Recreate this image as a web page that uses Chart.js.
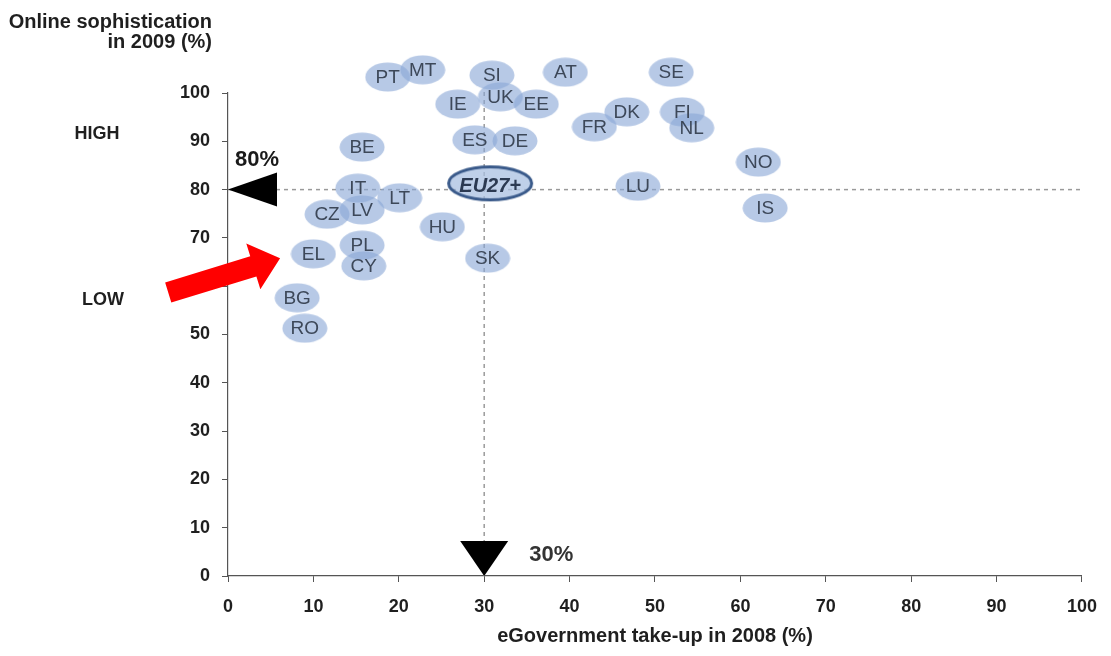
<!DOCTYPE html>
<html>
<head>
<meta charset="utf-8">
<title>eGovernment take-up vs online sophistication</title>
<script src="https://cdn.jsdelivr.net/npm/chart.js@4/dist/chart.umd.min.js"></script>
<style>
  html, body { margin: 0; padding: 0; background: #ffffff; }
  #wrap { width: 1111px; height: 656px; position: relative; }
</style>
</head>
<body>
<div id="wrap"><canvas id="chart" width="1111" height="656"></canvas></div>
<script>
// Country codes with eGovernment take-up 2008 (%) and online sophistication 2009 (%)
const countries = ['PT','MT','SI','AT','SE','IE','UK','EE','DK','FI','FR','NL','ES','DE','BE','NO','LU','IT','LT','LV','CZ','IS','HU','PL','EL','CY','SK','BG','RO'];
const takeUp2008 = [18.7, 22.8, 30.9, 39.5, 51.9, 26.9, 31.9, 36.1, 46.7, 53.2, 42.9, 54.3, 28.9, 33.6, 15.7, 62.1, 48.0, 15.2, 20.1, 15.7, 11.6, 62.9, 25.1, 15.7, 10.0, 15.9, 30.4, 8.1, 9.0];
const sophistication2009 = [103.3, 104.8, 103.7, 104.3, 104.3, 97.7, 99.2, 97.7, 96.1, 96.1, 93.0, 92.8, 90.3, 90.1, 88.8, 85.7, 80.7, 80.3, 78.3, 75.8, 74.9, 76.2, 72.3, 68.5, 66.7, 64.2, 65.8, 57.6, 51.3];

// EU average
const averageLabel = ['EU27+'];
const averageTakeUp = [30.7];
const averageSophistication = [81.3];

// Axis ticks
const xTickValues = [0, 10, 20, 30, 40, 50, 60, 70, 80, 90, 100];
const yTickValues = [0, 10, 20, 30, 40, 50, 60, 70, 80, 90, 100];

// Reference thresholds
const thresholdTakeUp = 30;
const thresholdSophistication = 80;
const thresholdLabels = ['80%', '30%'];

// Side band labels and their levels on the sophistication scale
const bandLabels = ['HIGH', 'LOW'];
const bandLevels = [91.6, 57.1];

// Pointer arrow (from, to) in chart units
const pointerFrom = [-7.0, 58.7];
const pointerTo = [6.1, 65.8];

const FONT = '"Liberation Sans", Arial, sans-serif';
const BUBBLE_FILL = 'rgba(138,168,214,0.62)';

function makeEllipse(w, h, fill, stroke, lw) {
  const c = document.createElement('canvas');
  c.width = w; c.height = h;
  const g = c.getContext('2d');
  g.beginPath();
  g.ellipse(w / 2, h / 2, w / 2 - lw - 0.5, h / 2 - lw - 0.5, 0, 0, Math.PI * 2);
  g.fillStyle = fill;
  g.fill();
  if (stroke) { g.lineWidth = lw; g.strokeStyle = stroke; g.stroke(); }
  return c;
}
const bubbleImg = makeEllipse(46, 30, BUBBLE_FILL, null, 0);
const averageImg = makeEllipse(90, 40, 'rgba(170,192,226,0.75)', '#3a5a8a', 3);

const countryPoints = countries.map((c, i) => ({ x: takeUp2008[i], y: sophistication2009[i] }));
const averagePoints = averageLabel.map((c, i) => ({ x: averageTakeUp[i], y: averageSophistication[i] }));

const overlay = {
  id: 'overlay',
  afterDatasetsDraw(chart) {
    const { ctx, scales: { x, y } } = chart;
    ctx.save();
    // Country codes inside bubbles
    const meta = chart.getDatasetMeta(2);
    ctx.font = '19px ' + FONT;
    ctx.fillStyle = '#3d4859';
    ctx.textAlign = 'center';
    ctx.textBaseline = 'middle';
    meta.data.forEach((el, i) => ctx.fillText(countries[i], el.x, el.y + 1));
    // EU average label
    const avg = chart.getDatasetMeta(3);
    ctx.font = 'italic bold 20px ' + FONT;
    ctx.fillStyle = '#2c3a52';
    avg.data.forEach((el, i) => ctx.fillText(averageLabel[i], el.x, el.y + 3));

    // Threshold triangles
    ctx.fillStyle = '#000000';
    const ty = y.getPixelForValue(thresholdSophistication);
    const tx0 = x.getPixelForValue(0);
    ctx.beginPath();
    ctx.moveTo(tx0, ty);
    ctx.lineTo(tx0 + 49, ty - 17);
    ctx.lineTo(tx0 + 49, ty + 17);
    ctx.closePath();
    ctx.fill();

    const vx = x.getPixelForValue(thresholdTakeUp);
    const vy0 = y.getPixelForValue(0);
    ctx.beginPath();
    ctx.moveTo(vx, vy0);
    ctx.lineTo(vx - 24, vy0 - 35);
    ctx.lineTo(vx + 24, vy0 - 35);
    ctx.closePath();
    ctx.fill();

    // Threshold labels
    ctx.font = 'bold 22px ' + FONT;
    ctx.fillStyle = '#1a1a1a';
    ctx.textAlign = 'center';
    ctx.fillText(thresholdLabels[0], tx0 + 29, ty - 30);
    ctx.fillStyle = '#333333';
    ctx.fillText(thresholdLabels[1], vx + 67, vy0 - 21);

    // Red pointer arrow
    const p0x = x.getPixelForValue(pointerFrom[0]), p0y = y.getPixelForValue(pointerFrom[1]);
    const p1x = x.getPixelForValue(pointerTo[0]), p1y = y.getPixelForValue(pointerTo[1]);
    const ang = Math.atan2(p1y - p0y, p1x - p0x);
    const len = Math.hypot(p1x - p0x, p1y - p0y);
    const hl = 28, hw = 24, sw = 10.5;
    ctx.translate(p0x, p0y);
    ctx.rotate(ang);
    ctx.beginPath();
    ctx.moveTo(0, -sw);
    ctx.lineTo(len - hl, -sw);
    ctx.lineTo(len - hl, -hw);
    ctx.lineTo(len, 0);
    ctx.lineTo(len - hl, hw);
    ctx.lineTo(len - hl, sw);
    ctx.lineTo(0, sw);
    ctx.closePath();
    ctx.fillStyle = '#ff0000';
    ctx.fill();
    ctx.restore();
  },
  afterDraw(chart) {
    const { ctx, scales: { x, y } } = chart;
    ctx.save();
    ctx.fillStyle = '#1f1f1f';
    ctx.font = 'bold 20px ' + FONT;
    ctx.textBaseline = 'alphabetic';
    // Vertical axis title
    ctx.textAlign = 'right';
    ctx.fillText('Online sophistication', 212, 28);
    ctx.fillText('in 2009 (%)', 212, 48);
    // Horizontal axis title
    ctx.textAlign = 'center';
    ctx.textBaseline = 'middle';
    ctx.fillText('eGovernment take-up in 2008 (%)', (x.left + x.right) / 2, 636);
    // Band labels
    ctx.font = 'bold 18px ' + FONT;
    ctx.fillText(bandLabels[0], 97, y.getPixelForValue(bandLevels[0]));
    ctx.fillText(bandLabels[1], 103, y.getPixelForValue(bandLevels[1]));
    ctx.restore();
  }
};

const tickFont = { family: FONT, size: 18, weight: 'bold' };

new Chart(document.getElementById('chart'), {
  type: 'scatter',
  data: {
    datasets: [
      {
        label: 'threshold-h',
        data: [{ x: 0, y: thresholdSophistication }, { x: 100, y: thresholdSophistication }],
        showLine: true, borderColor: '#9a9a9a', borderWidth: 1.5, borderDash: [4, 4],
        pointRadius: 0, order: 5, clip: false
      },
      {
        label: 'threshold-v',
        data: [{ x: thresholdTakeUp, y: 0 }, { x: thresholdTakeUp, y: 101 }],
        showLine: true, borderColor: '#9a9a9a', borderWidth: 1.5, borderDash: [4, 4],
        pointRadius: 0, order: 4, clip: false
      },
      {
        label: 'countries',
        data: countryPoints,
        pointStyle: bubbleImg, pointRadius: 40, order: 2, clip: false
      },
      {
        label: 'average',
        data: averagePoints,
        pointStyle: averageImg, pointRadius: 50, order: 1, clip: false
      }
    ]
  },
  options: {
    responsive: false,
    animation: false,
    devicePixelRatio: 1,
    layout: { autoPadding: false, padding: { left: 0, right: 29, top: 93, bottom: 0 } },
    plugins: { legend: { display: false }, tooltip: { enabled: false }, title: { display: false } },
    scales: {
      x: {
        type: 'linear', min: 0, max: 100,
        afterBuildTicks: s => { s.ticks = xTickValues.map(v => ({ value: v })); },
        afterFit: s => { s.height = 80; },
        ticks: { font: tickFont, color: '#1f1f1f', padding: 14 },
        grid: { drawOnChartArea: false, drawTicks: true, tickLength: 6, color: '#555555', lineWidth: 1 },
        border: { color: '#555555', width: 1.2 }
      },
      y: {
        type: 'linear', min: 0, max: 100,
        afterBuildTicks: s => { s.ticks = yTickValues.map(v => ({ value: v })); },
        afterFit: s => { s.width = 228; },
        ticks: { font: tickFont, color: '#1f1f1f', padding: 12 },
        grid: { drawOnChartArea: false, drawTicks: true, tickLength: 6, color: '#555555', lineWidth: 1 },
        border: { color: '#555555', width: 1.2 }
      }
    }
  },
  plugins: [overlay]
});
</script>
</body>
</html>
